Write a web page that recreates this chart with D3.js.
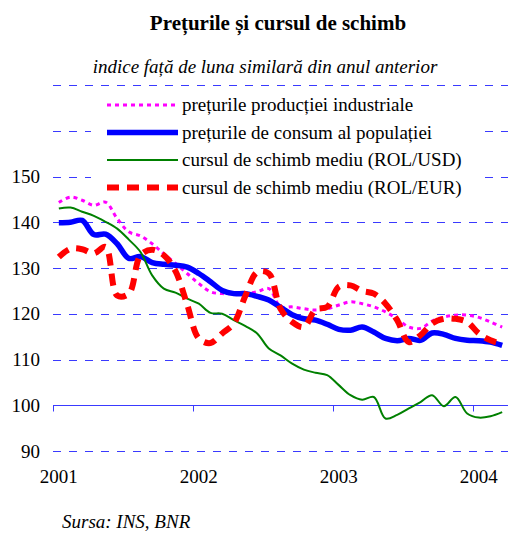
<!DOCTYPE html>
<html>
<head>
<meta charset="utf-8">
<script src="https://cdn.jsdelivr.net/npm/d3@7"></script>
<style>
  body { margin: 0; background: #fff; }
  svg { display: block; font-family: "Liberation Serif", "Times New Roman", serif; }
</style>
</head>
<body>
<div id="chart"></div>
<script>
// months Jan 2001 .. Mar 2004
const months = [
  "2001-01","2001-02","2001-03","2001-04","2001-05","2001-06","2001-07","2001-08","2001-09","2001-10","2001-11","2001-12",
  "2002-01","2002-02","2002-03","2002-04","2002-05","2002-06","2002-07","2002-08","2002-09","2002-10","2002-11","2002-12",
  "2003-01","2003-02","2003-03","2003-04","2003-05","2003-06","2003-07","2003-08","2003-09","2003-10","2003-11","2003-12",
  "2004-01","2004-02","2004-03"
]
const yearLabels = ["2001", "2002", "2003", "2004"]
const yTicks = [90, 100, 110, 120, 130, 140, 150]
const gridValues = [90, 110, 120, 130, 140, 150, 160, 170]

const seriesNames = [
  "prețurile producției industriale",
  "prețurile de consum al populației",
  "cursul de schimb mediu (ROL/USD)",
  "cursul de schimb mediu (ROL/EUR)"
]

const industrial = [144.3,145.5,144.8,143.7,144.4,140.8,137.9,137.0,135.3,133.1,131.0,128.8,
  126.6,124.8,124.4,124.4,124.4,124.8,125.5,121.5,121.5,121.1,120.8,121.1,
  121.9,122.6,122.2,121.5,120.4,118.9,117.1,116.8,118.4,119.3,119.7,119.7,
  119.2,118.2,117.1]
const consumer = [139.9,140.0,140.4,137.3,137.4,135.3,132.1,132.5,131.2,130.8,130.6,130.2,
  128.8,127.0,125.1,124.4,124.4,123.8,123.0,121.4,119.8,118.9,118.6,117.7,
  116.6,116.4,117.1,116.0,114.6,114.1,114.6,114.2,115.8,115.5,114.6,114.2,
  114.1,113.8,113.1]
const rolUsd = [143.0,143.2,142.3,141.4,140.1,138.6,136.2,133.5,128.4,125.5,124.6,123.3,
  122.2,120.2,120.0,118.6,117.3,115.7,112.4,110.9,109.1,107.8,107.1,106.6,
  104.4,102.2,101.2,101.8,97.1,97.9,99.3,100.7,102.2,99.8,101.8,98.2,
  97.3,97.6,98.5]
const rolEur = [132.4,134.2,134.1,133.2,134.6,124.0,124.4,132.8,134.0,132.8,129.3,122.0,
  114.6,113.6,115.7,117.9,124.0,129.1,128.8,121.1,118.2,117.1,120.9,121.5,
  125.9,126.2,125.0,124.4,122.2,118.6,113.8,115.3,117.9,118.9,118.9,118.2,
  115.7,114.2,113.4]

const series = [
  { name: seriesNames[0], values: industrial, color: "#ff00ff", width: 3, dash: "4,4" },
  { name: seriesNames[1], values: consumer, color: "#0000ff", width: 5.5, dash: null },
  { name: seriesNames[2], values: rolUsd, color: "#008000", width: 2, dash: null },
  { name: seriesNames[3], values: rolEur, color: "#ff0000", width: 6, dash: "12,8" }
]

const w = 509
const h = 537

const svg = d3.select('#chart')
  .append('svg')
  .attr('width', w)
  .attr('height', h)

const x = d3.scaleBand()
  .domain(months)
  .range([53, 508])
const y = d3.scaleLinear()
  .domain([90, 170])
  .range([451, 85])

// title
svg.append('text')
  .attr('x', 278).attr('y', 30)
  .attr('text-anchor', 'middle')
  .style('font-size', '21px').style('font-weight', 'bold')
  .text('Prețurile și cursul de schimb')
svg.append('text')
  .attr('x', 265).attr('y', 73)
  .attr('text-anchor', 'middle')
  .style('font-size', '19px').style('font-style', 'italic')
  .text('indice față de luna similară din anul anterior')

// grid
svg.selectAll('line.grid')
  .data(gridValues)
  .enter()
  .append('line')
  .attr('class', 'grid')
  .attr('x1', 53).attr('x2', 508)
  .attr('y1', d => Math.round(y(d)) + 0.5)
  .attr('y2', d => Math.round(y(d)) + 0.5)
  .attr('stroke', '#3a3aff')
  .attr('stroke-width', 1)
  .attr('stroke-dasharray', '8,8')

// 100 axis line with year ticks
const y100 = Math.round(y(100)) + 0.5
svg.append('line')
  .attr('x1', 53).attr('x2', 508)
  .attr('y1', y100).attr('y2', y100)
  .attr('stroke', '#3a3aff')
svg.selectAll('line.ytick')
  .data(yearLabels)
  .enter()
  .append('line')
  .attr('x1', d => Math.round(x(d + '-01')) + 0.5)
  .attr('x2', d => Math.round(x(d + '-01')) + 0.5)
  .attr('y1', y100).attr('y2', y100 + 6)
  .attr('stroke', '#3a3aff')

// y labels
const yAxis = svg.append('g')
  .attr('transform', 'translate(40,0)')
  .call(d3.axisLeft(y).tickValues(yTicks).tickSize(0).tickPadding(0))
yAxis.select('.domain').remove()
yAxis.attr('font-family', null).attr('font-size', null)
yAxis.selectAll('text')
  .style('font-family', '"Liberation Serif", serif')
  .style('font-size', '19px')
  .attr('fill', '#000')

// x labels
svg.selectAll('text.xl')
  .data(yearLabels)
  .enter()
  .append('text')
  .attr('x', d => x(d + '-01') + x.bandwidth() / 2)
  .attr('y', 483)
  .attr('text-anchor', 'middle')
  .style('font-size', '19px')
  .text(d => d)

// lines
const line = d3.line()
  .x((d, i) => x(months[i]) + x.bandwidth() / 2)
  .y(d => y(d))
  .curve(d3.curveCatmullRom.alpha(0.5))

series.forEach(s => {
  svg.append('path')
    .attr('d', line(s.values))
    .attr('fill', 'none')
    .attr('stroke', s.color)
    .attr('stroke-width', s.width)
    .attr('stroke-dasharray', s.dash)
})

// legend
const legend = svg.append('g')
legend.append('rect')
  .attr('x', 91).attr('y', 90)
  .attr('width', 391).attr('height', 110)
  .attr('fill', '#fff')
series.forEach((s, i) => {
  const ly = 105 + i * 27.5
  legend.append('line')
    .attr('x1', 107).attr('x2', 178)
    .attr('y1', ly).attr('y2', ly)
    .attr('stroke', s.color)
    .attr('stroke-width', s.width)
    .attr('stroke-dasharray', s.dash)
  legend.append('text')
    .attr('x', 182).attr('y', ly + 6)
    .style('font-size', '19px')
    .text(s.name)
})

svg.append('text')
  .attr('x', 62).attr('y', 528)
  .style('font-size', '19px').style('font-style', 'italic')
  .text('Sursa: INS, BNR')
</script>
</body>
</html>
